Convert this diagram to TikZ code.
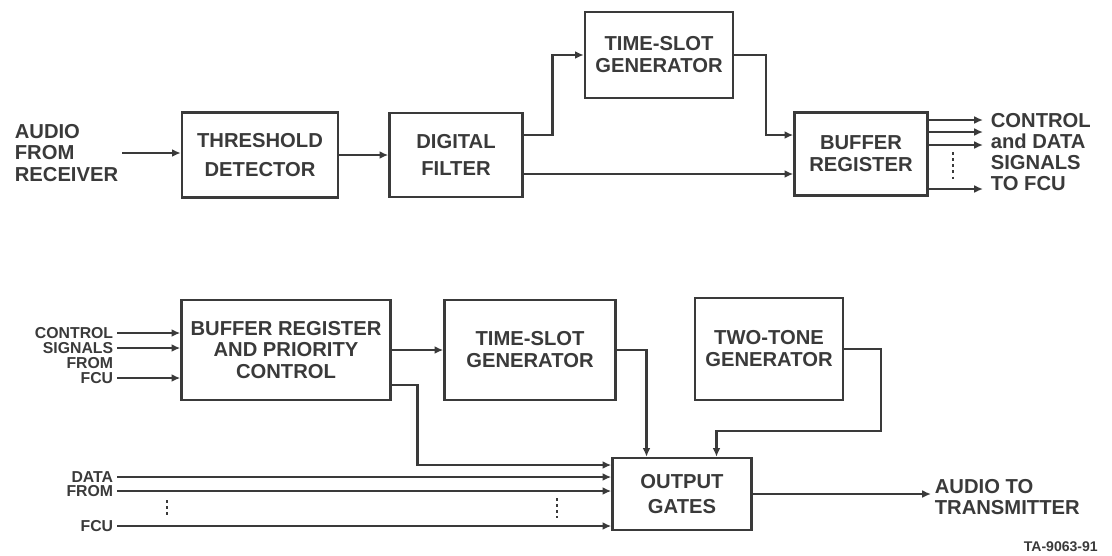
\documentclass[tikz,border=0pt]{standalone}
\usepackage{fontspec}
\setmainfont{Liberation Sans}
\usepackage{xcolor}
\usetikzlibrary{arrows.meta,positioning}

\definecolor{ink}{HTML}{3A3A3A}

\begin{document}
\begin{tikzpicture}[
  x=0.02cm, y=-0.02cm,
  blk/.style ={draw=ink, line width=1.4pt, rectangle, align=center,
               text=ink, font=\fontsize{11.5}{12.5}\selectfont\bfseries},
  lbl/.style ={text=ink, inner sep=2pt, align=left,
               font=\fontsize{11.5}{12.2}\selectfont\bfseries},
  slbl/.style={text=ink, inner sep=2pt, anchor=east,
               font=\fontsize{9}{9}\selectfont\bfseries},
  arr/.style ={-{Latex[length=5pt,width=4.5pt]}, line width=1.4pt, draw=ink},
  dots/.style={draw=ink, line width=1.6pt, dash pattern=on 1.5pt off 2pt}
]
\useasboundingbox (0,0) rectangle (1112,555);

%% ── Receiving side ───────────────────────────────────────────────────
\node[lbl, anchor=west] (audin) at (11,153) {AUDIO\\FROM\\RECEIVER};
\node[blk, minimum width=3.12cm, minimum height=1.70cm] (thr)  at (260,155)
    {THRESHOLD\\[4pt]DETECTOR};
\node[blk, minimum width=2.66cm, minimum height=1.68cm] (filt) at (456,155)
    {DIGITAL\\[3pt]FILTER};
\node[blk, minimum width=2.96cm, minimum height=1.72cm] (tsg1) at (659,55)
    {TIME-SLOT\\GENERATOR};
\node[blk, minimum width=2.66cm, minimum height=1.66cm] (buf)  at (861,154)
    {BUFFER\\REGISTER};
\node[lbl, anchor=west, font=\fontsize{11.5}{12}\selectfont\bfseries] (sigout) at (987,152)
    {CONTROL\\and DATA\\SIGNALS\\TO FCU};

\draw[arr] (audin.east) -- (audin.east -| thr.west);
\draw[arr] (thr.east) -- (filt.west);
\draw[arr] ([yshift=0.4cm]filt.east) -- ++(29,0) |- (tsg1.west);
\draw[arr] (tsg1.east) -- ++(32,0) |- ([yshift=0.38cm]buf.west);
\draw[arr] ([yshift=-0.38cm]filt.east) coordinate (fl) -- (fl -| buf.west);

\foreach \y [count=\i] in {120,132,145,189}
  \coordinate (out\i) at (983,\y);
\foreach \i in {1,...,4}
  \draw[arr] (buf.east |- out\i) -- (out\i);
\draw[dots] (953,152) -- (953,182);

%% ── Transmitting side ────────────────────────────────────────────────
\node[slbl] (c1) at (117,333) {CONTROL};
\node[slbl] (c2) at (117,348) {SIGNALS};
\node[slbl] (c3) at (117,363) {FROM};
\node[slbl] (c4) at (117,378) {FCU};

\node[blk, minimum width=4.18cm, minimum height=2.0cm] (brpc) at (286,350)
    {BUFFER REGISTER\\AND PRIORITY\\CONTROL};
\node[blk, minimum width=3.42cm, minimum height=2.0cm] (tsg2) at (530,350)
    {TIME-SLOT\\GENERATOR};
\node[blk, minimum width=2.96cm, minimum height=2.04cm] (tt)   at (769,349)
    {TWO-TONE\\GENERATOR};
\node[blk, minimum width=2.78cm, minimum height=1.44cm] (og)   at (682,494)
    {OUTPUT\\[2pt]GATES};

\node[slbl] (d1) at (117,477) {DATA};
\node[slbl] (d2) at (117,491) {FROM};
\node[slbl] (d3) at (117,526) {FCU};

\node[lbl, anchor=west] (aout) at (931,497) {AUDIO TO\\TRANSMITTER};
\node[text=ink, anchor=east, font=\fontsize{8}{8}\selectfont\bfseries] (tag)
    at (1104,547) {TA-9063-91};

\foreach \n in {c1,c2,c4}
  \draw[arr] (\n.east) -- (\n.east -| brpc.west);
\draw[arr] (brpc.east) -- (tsg2.west);
\draw[arr] (tsg2.east) -| ([xshift=-0.71cm]og.north);
\draw[arr] (tt.east) -- ++(37,0) -- ++(0,82) -| ([xshift=0.69cm]og.north);
\draw[arr] ([yshift=-0.7cm]brpc.east) -- ++(26,0) |- ([yshift=0.58cm]og.west);

\foreach \n in {d1,d2,d3}
  \draw[arr] (\n.east) -- (\n.east -| og.west);
\draw[dots] (167,500) -- (167,518);
\draw[dots] (557,498) -- (557,518);

\draw[arr] (og.east) -- (og.east -| aout.west);

\end{tikzpicture}
\end{document}
